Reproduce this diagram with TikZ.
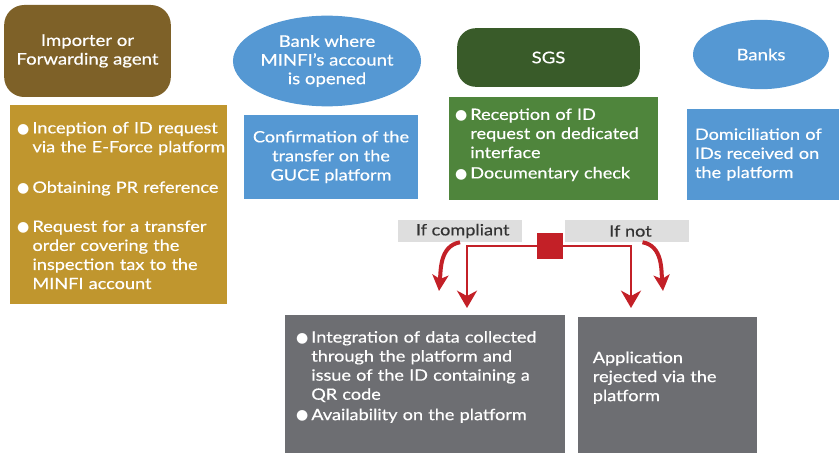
\documentclass[tikz,border=0pt]{standalone}
\usepackage{fontspec}
\setmainfont{Lato}[FakeStretch=1.16, FakeBold=0.5]
\newfontfamily\symfont{DejaVu Sans}
\usetikzlibrary{arrows.meta, positioning, shapes.geometric}
\definecolor{importbrown}{HTML}{7E6128}
\definecolor{importgold}{HTML}{C0962E}
\definecolor{bankblue}{HTML}{5598D3}
\definecolor{sgsdark}{HTML}{395B29}
\definecolor{sgsgreen}{HTML}{4F853C}
\definecolor{resultgrey}{HTML}{6D6E72}
\definecolor{taggrey}{HTML}{DEDEDE}
\definecolor{tagtext}{HTML}{333333}
\definecolor{flowred}{HTML}{C32027}
\newcommand{\boxheadfont}{\fontsize{12}{14}\selectfont}
\newcommand{\boxtextfont}{\fontsize{11.7}{14.3}\selectfont}
\newlength{\bulind}\setlength{\bulind}{11.5pt}
\newcommand{\bul}[1]{\par\noindent\makebox[\bulind][l]{\raisebox{0.2pt}{\symfont\fontsize{10.5}{10.5}\selectfont ●}}%
    \begin{tabular}[t]{@{}l@{}}#1\end{tabular}\par}
\tikzset{
    headbox/.style={rectangle, rounded corners=15pt, text=white, align=center, font=\boxheadfont, inner sep=0pt},
    headoval/.style={ellipse, fill=bankblue, text=white, align=center, font=\boxheadfont, inner sep=0pt},
    infobox/.style={rectangle, text=white, align=left, font=\boxtextfont, inner ysep=0pt},
    tagbox/.style={rectangle, fill=taggrey, text=tagtext, font=\boxtextfont, minimum width=93pt, minimum height=16.5pt, inner sep=0pt},
    flow/.style={draw=flowred, line width=2pt, -{Stealth[length=13pt, width=15pt, inset=4pt]}},
    swerve/.style={draw=flowred, line width=3pt, -{Stealth[length=12pt, width=12pt, inset=3pt]}}
}
\begin{document}
\begin{tikzpicture}[x=0.75pt, y=-0.75pt]
    \useasboundingbox (0,0) rectangle (839,453);
    % actors
    \node[headbox, fill=importbrown, minimum width=125pt, minimum height=69pt] (importer) at (87.5,51) {Importer or\\Forwarding agent};
    \node[headoval, minimum width=136.5pt, minimum height=68pt] (bank) at (327,61) {Bank where\\MINFI's account\\is opened};
    \node[headbox, fill=sgsdark, rounded corners=14pt, minimum width=137pt, minimum height=44pt] (sgs) at (548.5,57.5) {SGS};
    \node[headoval, minimum width=102pt, minimum height=52pt] (banks) at (761,54.5) {Banks};
    % tasks
    \node[infobox, fill=importgold, inner xsep=5.25pt, text width=152pt, minimum height=149.25pt] (request) at (118.5,204.5) {%
        \bul{Inception of ID request\\via the E-Force platform}
        \vspace{15pt}
        \bul{Obtaining PR reference}
        \vspace{15pt}
        \bul{Request for a transfer\\order covering the\\inspection tax to the\\MINFI account}};
    \node[infobox, fill=bankblue, align=center, minimum width=130.5pt, minimum height=63pt] (transfer) at (331,157) {Confirmation of the\\transfer on the\\GUCE platform};
    \node[infobox, fill=sgsgreen, inner xsep=4.5pt, text width=147.75pt, minimum height=77.25pt] (check) at (553.5,148.5) {%
        \bul{Reception of ID\\request on dedicated\\interface}
        \bul{Documentary check}
        \vspace*{9pt}};
    \node[infobox, fill=bankblue, inner xsep=6pt, text width=102pt, minimum height=68.25pt] (domicile) at (763,154.5) {Domiciliation of\\IDs received on\\the platform};
    % decision
    \node[tagbox] (oktag) at (460,231) {\hspace*{4pt}If compliant};
    \node[tagbox] (nottag) at (626.5,231) {\hspace*{6pt}If not};
    \node[rectangle, fill=flowred, minimum size=19.5pt, inner sep=0pt] (split) at (550,246) {};
    % outcomes
    \node[infobox, fill=resultgrey, inner xsep=8.25pt, text width=193.5pt, minimum height=103.5pt] (issue) at (425,384) {%
        \bul{Integration of data collected\\through the platform and\\issue of the ID containing a\\QR code}
        \bul{Availability on the platform}
        \vspace*{14pt}};
    \node[infobox, fill=resultgrey, inner xsep=11pt, text width=112pt, minimum height=102pt] (reject) at (667.5,385) {%
        Application\\rejected via the\\platform
        \par\vspace*{11pt}};
    \coordinate (okend) at (467,308);
    \coordinate (notend) at (631,308);
    \coordinate (oktip) at (439,291);
    \coordinate (nottip) at (663,291);
    \draw[flow] (split.west) -| (okend);
    \draw[flow] (split.east) -| (notend);
    \draw[swerve] (oktag.south) to[out=190, in=85] (oktip);
    \draw[swerve] ([xshift=12pt]nottag.south) to[out=-10, in=95] (nottip);
\end{tikzpicture}
\end{document}
